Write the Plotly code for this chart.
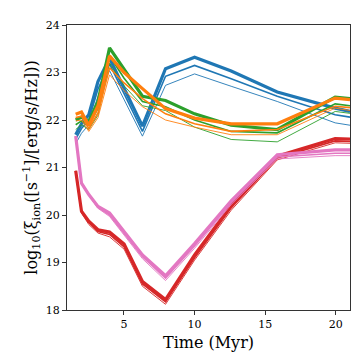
import plotly.graph_objects as go

# time grid (Myr)
t = [1.585, 1.995, 2.512, 3.162, 3.981, 5.012, 6.310, 7.943, 10.0, 12.59, 15.85, 19.95, 21.0]

blue = [
    [21.69, 21.92, 22.11, 22.81, 23.30, 22.67, 21.87, 23.08, 23.32, 23.03, 22.59, 22.25, 22.18],
    [21.60, 21.82, 22.00, 22.65, 23.18, 22.55, 21.76, 22.92, 23.15, 22.87, 22.50, 22.11, 22.06],
    [21.50, 21.72, 21.90, 22.50, 23.04, 22.43, 21.66, 22.73, 22.97, 22.71, 22.39, 21.94, 21.89],
]
green = [
    [22.00, 22.06, 21.96, 22.39, 23.52, 23.07, 22.50, 22.41, 22.13, 21.89, 21.80, 22.48, 22.45],
    [21.90, 21.98, 21.88, 22.25, 23.35, 22.88, 22.39, 22.28, 22.00, 21.76, 21.73, 22.34, 22.30],
    [21.80, 21.90, 21.80, 22.10, 23.20, 22.72, 22.30, 22.20, 21.85, 21.59, 21.54, 22.18, 22.14],
]
orange = [
    [22.12, 22.17, 21.89, 22.30, 23.35, 23.00, 22.66, 22.24, 22.04, 21.92, 21.92, 22.46, 22.43],
    [22.05, 22.08, 21.82, 22.15, 23.10, 22.78, 22.45, 22.13, 21.92, 21.76, 21.80, 22.29, 22.26],
    [21.98, 22.00, 21.76, 22.05, 22.95, 22.62, 22.28, 22.00, 21.85, 21.69, 21.69, 22.25, 22.20],
]
red = [
    [20.93, 20.08, 19.87, 19.69, 19.64, 19.39, 18.60, 18.22, 19.16, 20.20, 21.24, 21.61, 21.60],
    [20.93, 20.06, 19.84, 19.65, 19.59, 19.33, 18.55, 18.17, 19.10, 20.15, 21.20, 21.56, 21.55],
    [20.93, 20.04, 19.80, 19.62, 19.54, 19.28, 18.50, 18.12, 19.05, 20.10, 21.16, 21.52, 21.51],
]
pink = [
    [21.66, 20.67, 20.43, 20.18, 20.04, 19.65, 19.16, 18.72, 19.40, 20.30, 21.27, 21.37, 21.37],
    [21.66, 20.67, 20.43, 20.16, 20.00, 19.60, 19.12, 18.67, 19.35, 20.26, 21.22, 21.30, 21.30],
    [21.66, 20.67, 20.42, 20.14, 19.97, 19.57, 19.08, 18.62, 19.30, 20.22, 21.18, 21.25, 21.25],
]

widths = [3.2, 1.6, 0.9]
groups = [
    (blue, "#1f77b4"),
    (green, "#2ca02c"),
    (orange, "#ff7f0e"),
    (red, "#d62728"),
    (pink, "#e377c2"),
]

fig = go.Figure()
for series, col in groups:
    for ys, w in zip(series, widths):
        fig.add_trace(go.Scatter(x=t, y=ys, mode="lines",
                                 line=dict(color=col, width=w),
                                 showlegend=False, hoverinfo="skip"))

font = "DejaVu Serif"
axis_common = dict(
    showgrid=False, zeroline=False,
    showline=True, linecolor="#333333", linewidth=1.2, mirror=True,
    ticks="outside", ticklen=4, tickwidth=1, tickcolor="#333333",
    tickfont=dict(family=font, size=11, color="black"),
)

fig.update_layout(
    width=360, height=360,
    margin=dict(l=59, r=18, t=17, b=58),
    plot_bgcolor="white", paper_bgcolor="white",
    font=dict(family=font),
    xaxis=dict(range=[0.97, 21.0], tickvals=[5, 10, 15, 20],
               title=dict(text="Time (Myr)", font=dict(family=font, size=16, color="black"),
                          standoff=6),
               **axis_common),
    yaxis=dict(range=[18, 24], tickvals=[18, 19, 20, 21, 22, 23, 24],
               title=dict(text="log<sub>10</sub>(ξ<sub>ion</sub>([s<sup>−1</sup>]/[erg/s/Hz]))",
                          font=dict(family=font, size=16, color="black"), standoff=4),
               **axis_common),
)

fig.write_html("out.html")
